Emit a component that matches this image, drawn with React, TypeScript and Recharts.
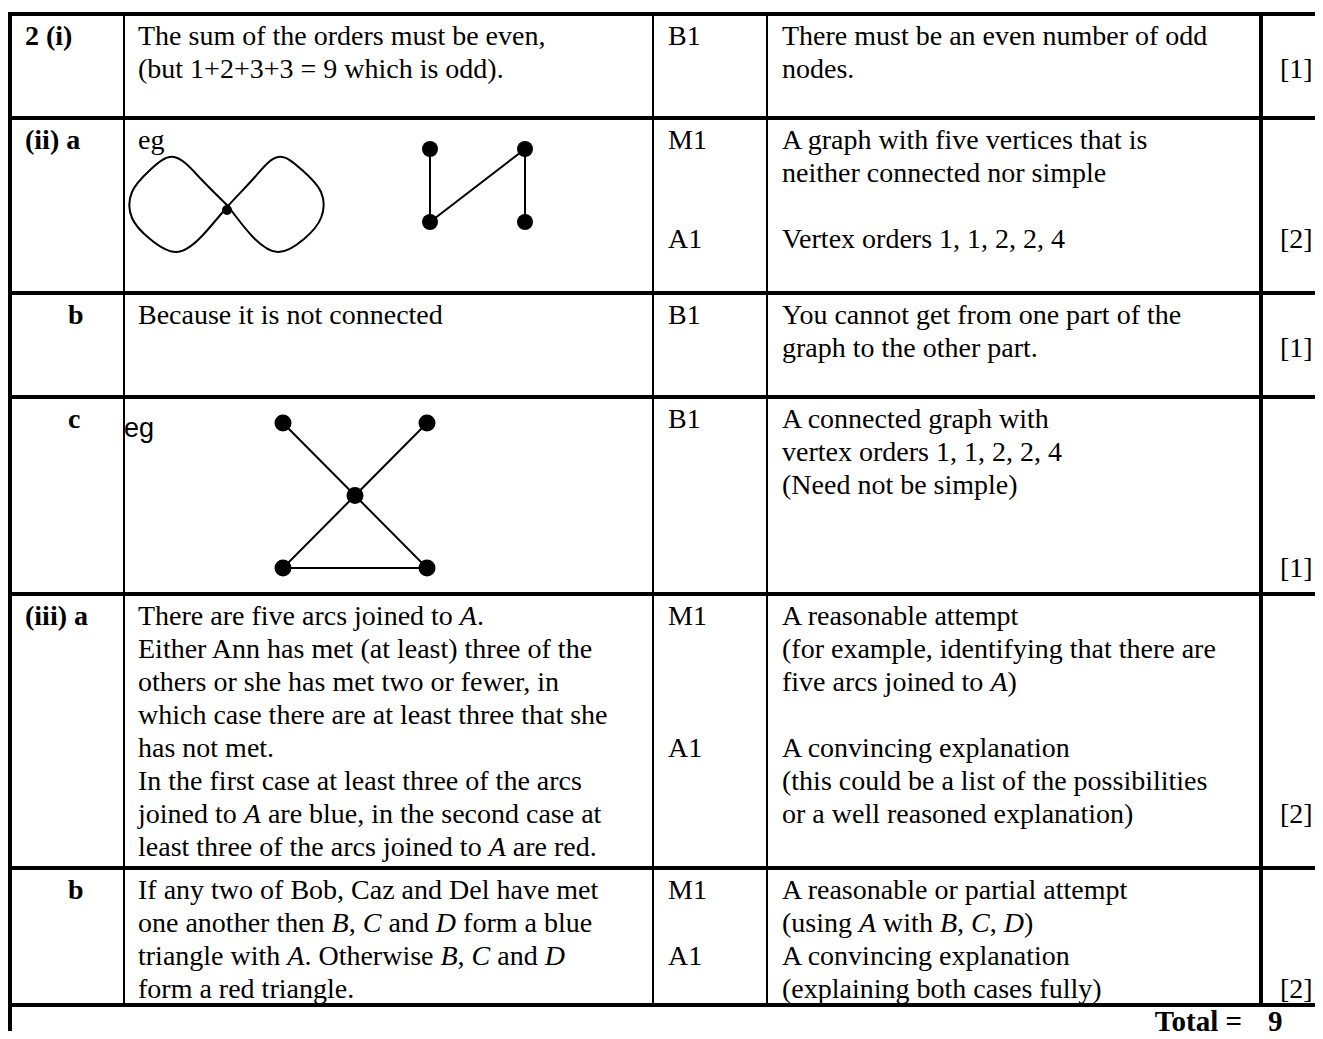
import React from "react";
import { ComposedChart, Line, Scatter, XAxis, YAxis } from "recharts";

// Question 2 mark scheme: one entry per row of the table
const partLabels = ["2 (i)", "(ii) a", "b", "c", "(iii) a", "b"];

const answerText = [
  ["The sum of the orders must be even,", "(but 1+2+3+3 = 9 which is odd)."],
  ["eg"],
  ["Because it is not connected"],
  [],
  [
    "There are five arcs joined to *A*.",
    "Either Ann has met (at least) three of the",
    "others or she has met two or fewer, in",
    "which case there are at least three that she",
    "has not met.",
    "In the first case at least three of the arcs",
    "joined to *A* are blue, in the second case at",
    "least three of the arcs joined to *A* are red.",
  ],
  [
    "If any two of Bob, Caz and Del have met",
    "one another then *B*, *C* and *D* form a blue",
    "triangle with *A*. Otherwise *B*, *C* and *D*",
    "form a red triangle.",
  ],
];

const markCodes = [
  ["B1"],
  ["M1", "", "", "A1"],
  ["B1"],
  ["B1"],
  ["M1", "", "", "", "A1"],
  ["M1", "", "A1"],
];

const guidanceText = [
  ["There must be an even number of odd", "nodes."],
  ["A graph with five vertices that is", "neither connected nor simple", "", "Vertex orders 1, 1, 2, 2, 4"],
  ["You cannot get from one part of the", "graph to the other part."],
  ["A connected graph with", "vertex orders 1, 1, 2, 2, 4", "(Need not be simple)"],
  [
    "A reasonable attempt",
    "(for example, identifying that there are",
    "five arcs joined to *A*)",
    "",
    "A convincing explanation",
    "(this could be a list of the possibilities",
    "or a well reasoned explanation)",
  ],
  ["A reasonable or partial attempt", "(using *A* with *B*, *C*, *D*)", "A convincing explanation", "(explaining both cases fully)"],
];

const marksAvailable = [1, 2, 1, 1, 2, 2];
const totalMarks = 9;

// (ii) a : figure of eight with one vertex
const figureEight = [
  { x: 100, y: 48 }, { x: 72, y: 76 }, { x: 46, y: 97 }, { x: 22, y: 84 },
  { x: 4, y: 62 }, { x: 4, y: 36 }, { x: 22, y: 15 }, { x: 48, y: 2 },
  { x: 74, y: 18 }, { x: 100, y: 48 }, { x: 126, y: 76 }, { x: 150, y: 97 },
  { x: 174, y: 84 }, { x: 193, y: 62 }, { x: 193, y: 36 }, { x: 176, y: 15 },
  { x: 150, y: 2 }, { x: 124, y: 18 }, { x: 100, y: 48 },
];
const figureEightVertex = [{ x: 99, y: 44 }];

// (ii) a : path on four vertices
const pathVertices = [{ x: 0, y: 1 }, { x: 1, y: 1 }, { x: 0, y: 0 }, { x: 1, y: 0 }];
const pathEdges = [{ x: 0, y: 1 }, { x: 0, y: 0 }, { x: 1, y: 1 }, { x: 1, y: 0 }];

// c : connected graph, orders 1, 1, 2, 2, 4 (edges walked as one trail)
const bowVertices = [{ x: 0, y: 2 }, { x: 2, y: 2 }, { x: 1, y: 1 }, { x: 0, y: 0 }, { x: 2, y: 0 }];
const bowEdges = [{ x: 0, y: 2 }, { x: 1, y: 1 }, { x: 2, y: 0 }, { x: 0, y: 0 }, { x: 1, y: 1 }, { x: 2, y: 2 }];

// layout (page pixels)
const ROW_EDGES = [14, 118, 293, 397, 594, 868, 1005];
const COL_EDGES = [10, 124, 653, 767, 1261, 1321];
const THICK_COLS = [true, false, false, false, true, true];
const LABEL_X = [25, 25, 68, 68, 25, 68];
const TEXT_X = [138, 668, 782, 1280];
const MARK_LINE = [2, 4, 2, 5.5, 7, 4];
const LINE_H = 33;
const PAD_TOP = 3;
const FONT = '"Liberation Serif", "Times New Roman", serif';

const rich = (s: string) =>
  s.split(/(\*[^*]+\*)/).map((part, i) =>
    part.startsWith("*") ? <i key={i}>{part.slice(1, -1)}</i> : <span key={i}>{part}</span>
  );

const TextLine: React.FC<{ x: number; y: number; text: string; bold?: boolean; line?: number }> = ({ x, y, text, bold, line = 0 }) => (
  <div
    style={{
      position: "absolute",
      left: x,
      top: y + PAD_TOP + line * LINE_H,
      height: LINE_H,
      lineHeight: `${LINE_H}px`,
      fontSize: 28,
      fontWeight: bold ? "bold" : "normal",
      whiteSpace: "nowrap",
    }}
  >
    {rich(text)}
  </div>
);

type GraphProps = {
  left: number;
  top: number;
  plotW: number;
  plotH: number;
  xDomain: [number, number];
  yDomain: [number, number];
  edges: { x: number; y: number }[];
  vertices: { x: number; y: number }[];
  curve: "linear" | "natural";
  radius: number;
};

const M = 12;

const GraphSketch: React.FC<GraphProps> = ({ left, top, plotW, plotH, xDomain, yDomain, edges, vertices, curve, radius }) => (
  <div style={{ position: "absolute", left: left - M, top: top - M }}>
    <ComposedChart width={plotW + 2 * M} height={plotH + 2 * M} margin={{ top: M, right: M, bottom: M, left: M }}>
      <XAxis type="number" dataKey="x" domain={xDomain} hide />
      <YAxis type="number" dataKey="y" domain={yDomain} hide />
      <Line
        data={edges}
        dataKey="y"
        type={curve}
        stroke="#000"
        strokeWidth={2}
        dot={false}
        activeDot={false}
        isAnimationActive={false}
      />
      <Scatter
        data={vertices}
        dataKey="y"
        isAnimationActive={false}
        shape={(p: any) => <circle cx={p.cx} cy={p.cy} r={radius} fill="#000" />}
      />
    </ComposedChart>
  </div>
);

export default function App() {
  const bottom = ROW_EDGES[ROW_EDGES.length - 1];
  return (
    <div
      style={{
        position: "relative",
        margin: -8,
        width: 1323,
        height: 1039,
        overflow: "hidden",
        background: "#fff",
        color: "#000",
        fontFamily: FONT,
      }}
    >
      {/* horizontal rules */}
      {ROW_EDGES.map((y, i) => (
        <div key={"h" + i} style={{ position: "absolute", left: 8, width: 1315, top: y - 2, height: 4, background: "#000" }} />
      ))}
      {/* vertical rules */}
      {COL_EDGES.map((x, i) => {
        const w = THICK_COLS[i] ? 4 : 2;
        return (
          <div
            key={"v" + i}
            style={{
              position: "absolute",
              left: x - w / 2,
              width: w,
              top: ROW_EDGES[0] - 2,
              height: (i === 0 ? 1039 : bottom) - ROW_EDGES[0] + 2,
              background: "#000",
            }}
          />
        );
      })}

      {partLabels.map((label, r) => {
        const y = ROW_EDGES[r] + 2;
        return (
          <React.Fragment key={"r" + r}>
            <TextLine x={LABEL_X[r]} y={y} text={label} bold />
            {answerText[r].map((t, i) => (
              <TextLine key={"a" + i} x={TEXT_X[0]} y={y} text={t} line={i} />
            ))}
            {markCodes[r].map((t, i) => (t ? <TextLine key={"m" + i} x={TEXT_X[1]} y={y} text={t} line={i} /> : null))}
            {guidanceText[r].map((t, i) => (t ? <TextLine key={"g" + i} x={TEXT_X[2]} y={y} text={t} line={i} /> : null))}
            <TextLine x={TEXT_X[3]} y={y} text={`[${marksAvailable[r]}]`} line={MARK_LINE[r] - 1} />
          </React.Fragment>
        );
      })}

      {/* "eg" in part c is set in a sans face */}
      <div
        style={{
          position: "absolute",
          left: 124,
          top: 412,
          lineHeight: `${LINE_H}px`,
          fontSize: 27,
          fontFamily: '"Liberation Sans", Arial, sans-serif',
        }}
      >
        eg
      </div>

      <GraphSketch left={128} top={154} plotW={200} plotH={100} xDomain={[0, 200]} yDomain={[0, 100]}
        edges={figureEight} vertices={figureEightVertex} curve="natural" radius={5} />
      <GraphSketch left={430} top={149} plotW={95} plotH={73} xDomain={[0, 1]} yDomain={[0, 1]}
        edges={pathEdges} vertices={pathVertices} curve="linear" radius={8} />
      <GraphSketch left={283} top={423} plotW={144} plotH={145} xDomain={[0, 2]} yDomain={[0, 2]}
        edges={bowEdges} vertices={bowVertices} curve="linear" radius={8.5} />

      {/* total */}
      <div
        style={{
          position: "absolute",
          right: 1323 - 1242,
          top: 1005,
          height: LINE_H,
          lineHeight: `${LINE_H}px`,
          fontSize: 29,
          fontWeight: "bold",
          whiteSpace: "nowrap",
        }}
      >
        Total =
      </div>
      <div
        style={{
          position: "absolute",
          left: 1268,
          top: 1005,
          height: LINE_H,
          lineHeight: `${LINE_H}px`,
          fontSize: 29,
          fontWeight: "bold",
        }}
      >
        {totalMarks}
      </div>
    </div>
  );
}
